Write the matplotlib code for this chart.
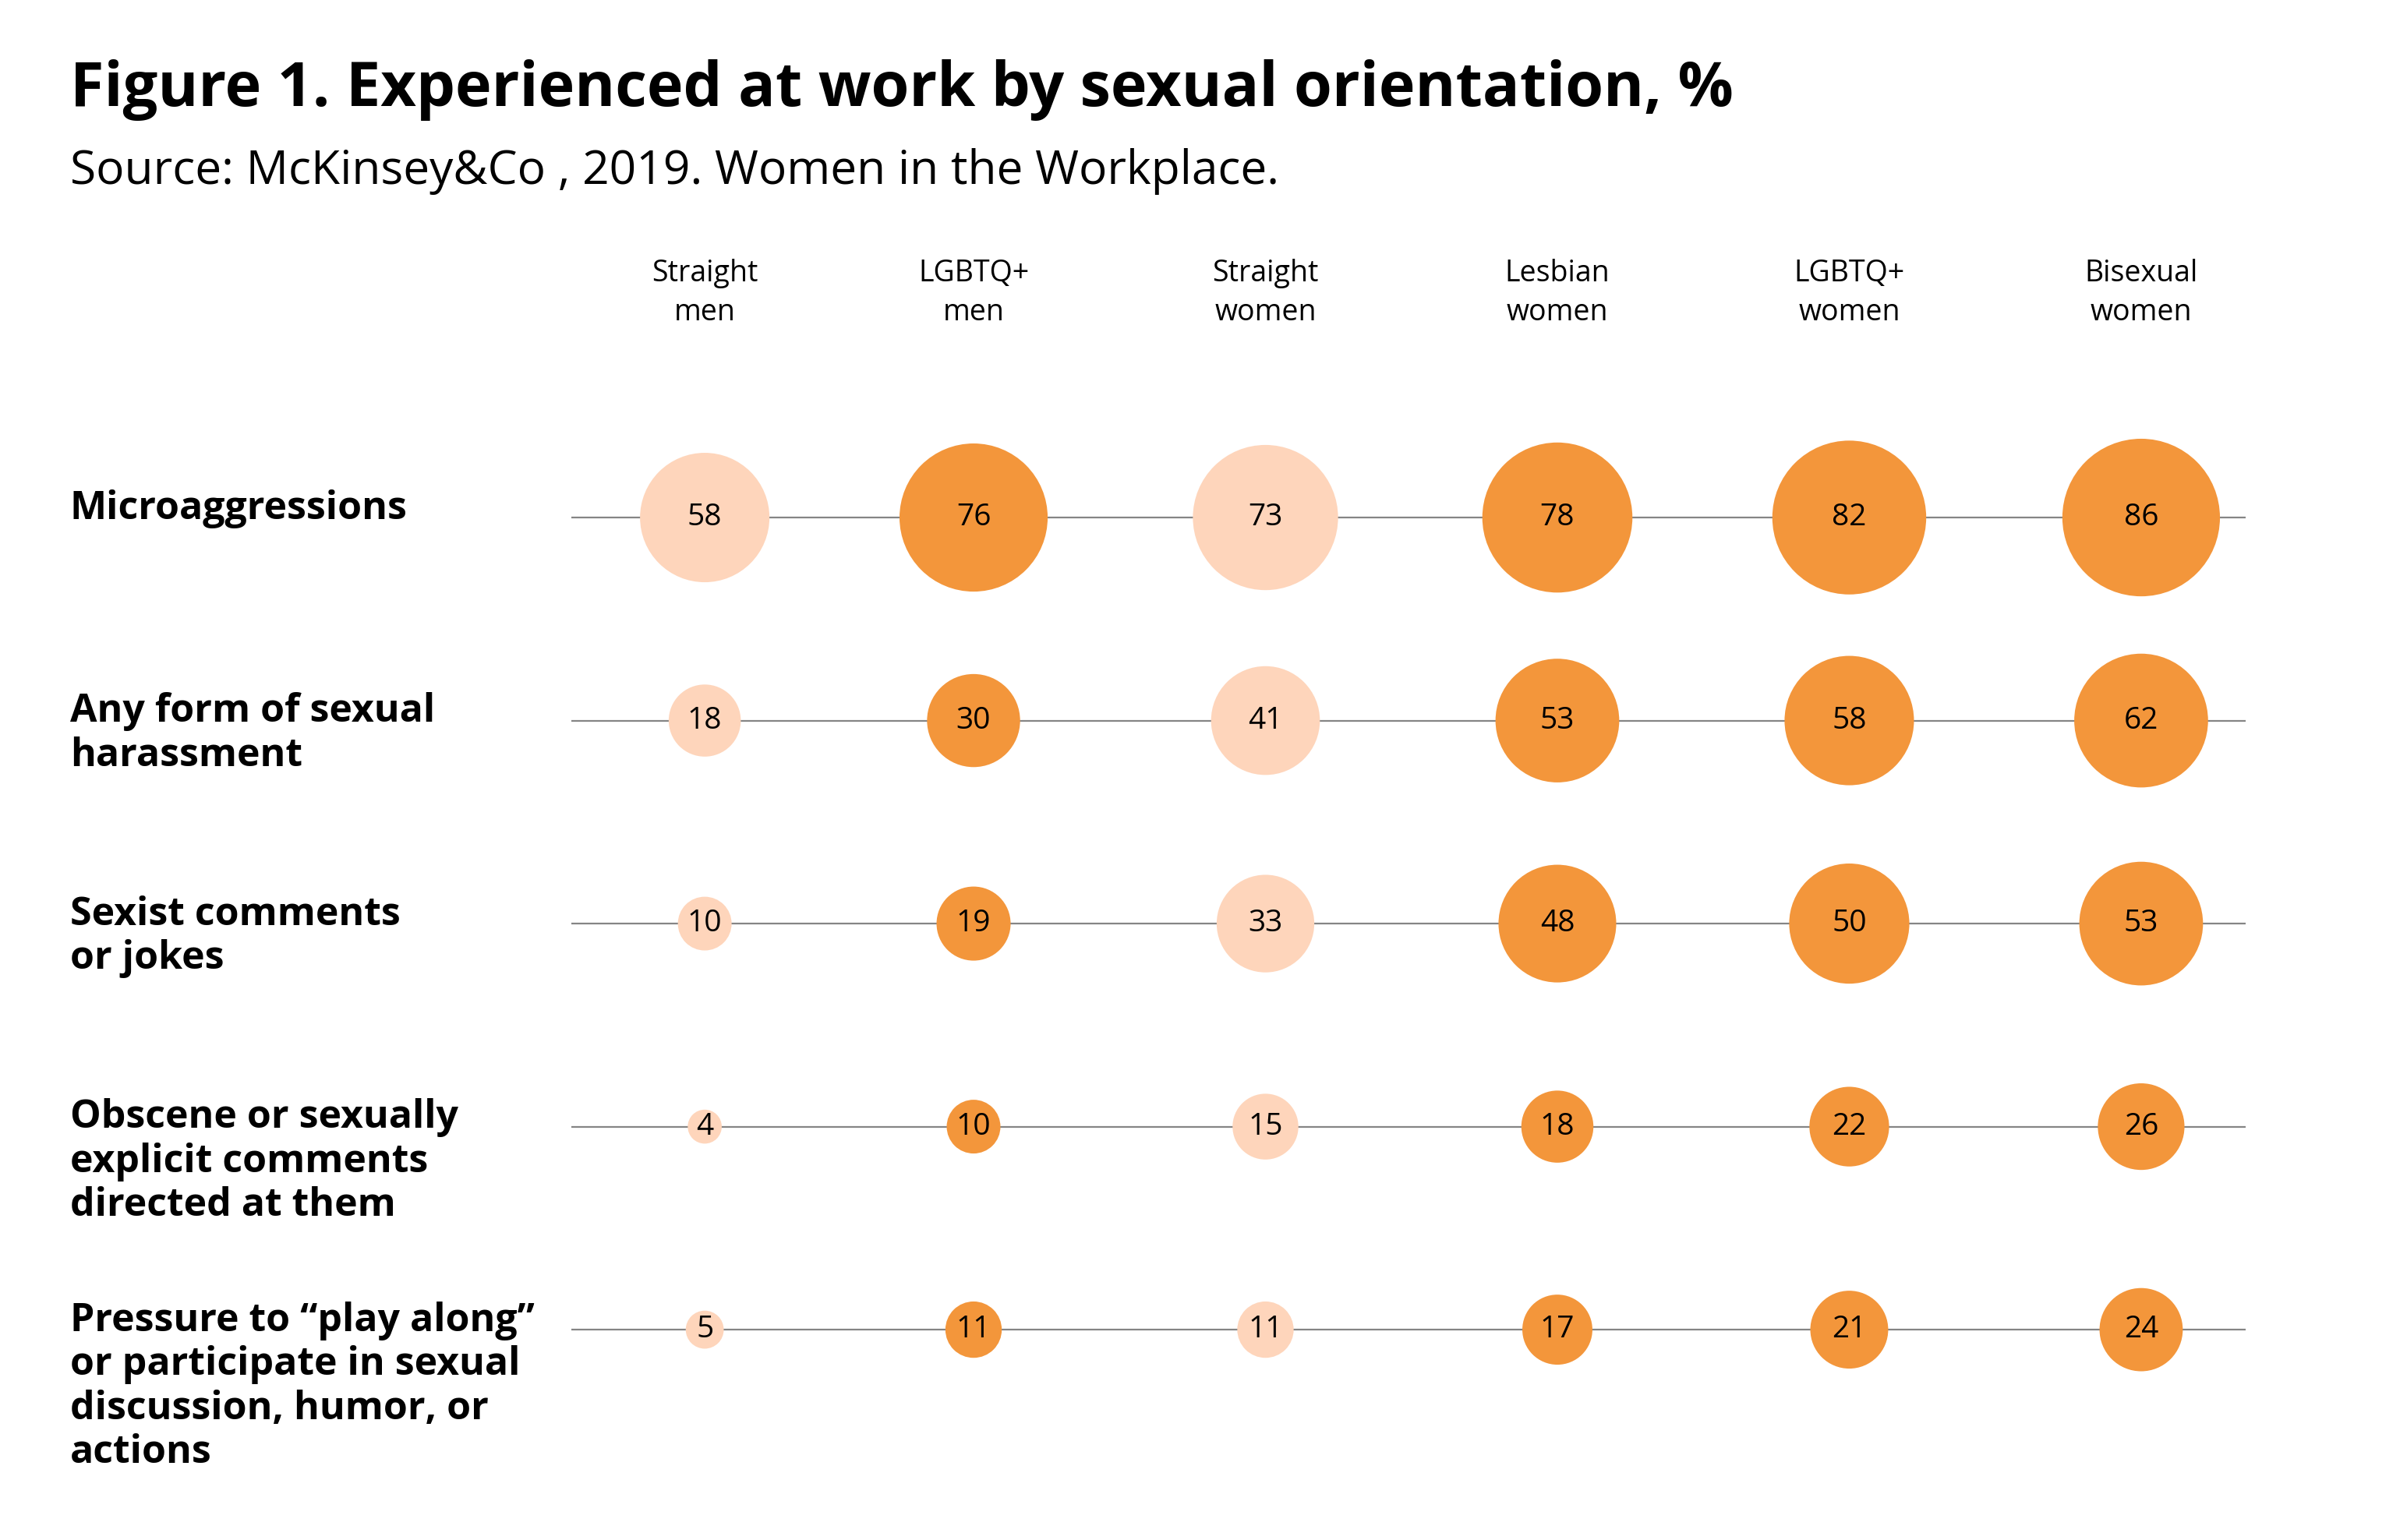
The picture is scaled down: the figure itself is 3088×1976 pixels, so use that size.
import matplotlib.pyplot as plt
import matplotlib.transforms as mtransforms
import numpy as np

plt.rcParams['font.family'] = ['Open Sans', 'DejaVu Sans']

# Daten
groups = ["Straight\nmen", "LGBTQ+\nmen", "Straight\nwomen", "Lesbian\nwomen", "LGBTQ+\nwomen", "Bisexual\nwomen"]
rows = ["Microaggressions",
        "Any form of sexual\nharassment",
        "Sexist comments\nor jokes",
        "Obscene or sexually\nexplicit comments\ndirected at them",
        "Pressure to \u201cplay along\u201d\nor participate in sexual\ndiscussion, humor, or\nactions"]

straight_men = [58, 18, 10, 4, 5]
lgbtq_men = [76, 30, 19, 10, 11]
straight_women = [73, 41, 33, 15, 11]
lesbian_women = [78, 53, 48, 18, 17]
lgbtq_women = [82, 58, 50, 22, 21]
bisexual_women = [86, 62, 53, 26, 24]

werte = [straight_men, lgbtq_men, straight_women, lesbian_women, lgbtq_women, bisexual_women]
hell = "#FED5BB"
dunkel = "#F3963B"
farben = [hell, dunkel, hell, dunkel, dunkel, dunkel]

# Spaltenpositionen (erste Spalte etwas enger)
col_x = [0.079, 1, 2, 3, 4, 5]

W, H = 3088, 1976
fig = plt.figure(figsize=(W / 200, H / 200), dpi=200)
ax = fig.add_axes([733 / W, 0, 2148 / W, 1])
ax.set_xlim(-0.378, 5.358)
ax.set_ylim(5.036, -2.549)
ax.axis("off")

for r in range(len(rows)):
    ax.plot([-0.378, 5.358], [r, r], color="#858585", lw=0.8, zorder=1, solid_capstyle="butt")

for c, vals in enumerate(werte):
    y = np.arange(len(vals))
    x = np.full(len(vals), col_x[c])
    ax.scatter(x, y, s=np.array(vals) * 61.6, color=farben[c], linewidths=0, zorder=2)
    for yi, v in zip(y, vals):
        ax.text(col_x[c], yi, str(v), ha="center", va="center", fontsize=14, color="black", zorder=3)
    ax.text(col_x[c], -1.276, groups[c], ha="center", va="top", fontsize=13.5,
            linespacing=1.42)

trans = mtransforms.blended_transform_factory(fig.transFigure, ax.transData)
for r, label in enumerate(rows):
    ax.text(90 / W, r - 0.139, label, transform=trans, ha="left", va="top",
            fontsize=18, fontweight="bold", linespacing=1.17)

fig.text(90 / W, 1 - 136 / H, "Figure 1. Experienced at work by sexual orientation, %",
         ha="left", va="baseline", fontsize=28.5, fontweight="bold")
fig.text(90 / W, 1 - 236 / H, "Source: McKinsey&Co , 2019. Women in the Workplace.",
         ha="left", va="baseline", fontsize=21.8)

fig.savefig("out.png", dpi=200)
